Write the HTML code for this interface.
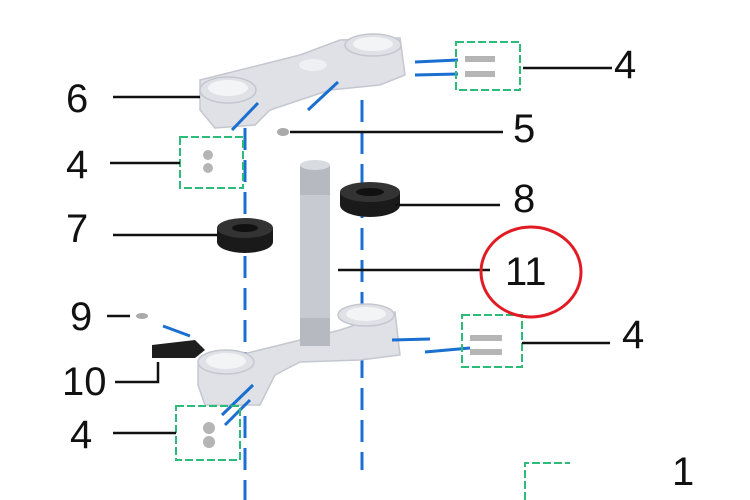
<!DOCTYPE html>
<html><head><style>body{margin:0;background:#fff}svg{display:block}text{font-family:"Liberation Sans",sans-serif;font-size:40px;fill:#111}</style></head>
<body>
<svg width="750" height="500" viewBox="0 0 750 500">
<!-- blue axes -->
<g stroke="#1a6fd0" stroke-width="3" stroke-dasharray="22,10">
<line x1="245" y1="128" x2="245" y2="500"/>
<line x1="362" y1="100" x2="362" y2="470"/>
</g>
<!-- upper clamp -->
<g fill="#dfe1e6" stroke="#c4c7cf" stroke-width="1.5">
<path d="M200 80 L300 55 L340 40 L400 38 L405 75 L380 85 L330 90 L270 110 L255 125 L215 128 L200 110 Z"/>
<ellipse cx="228" cy="90" rx="28" ry="13"/>
<ellipse cx="373" cy="45" rx="28" ry="11"/>
</g>
<ellipse cx="228" cy="88" rx="20" ry="8" fill="#f3f4f6"/>
<ellipse cx="373" cy="44" rx="20" ry="7" fill="#f3f4f6"/>
<ellipse cx="313" cy="65" rx="14" ry="6" fill="#eef0f3"/>
<!-- lower clamp -->
<g fill="#dfe1e6" stroke="#c4c7cf" stroke-width="1.5">
<path d="M198 365 L280 345 L340 330 L395 312 L400 355 L360 360 L300 362 L275 375 L260 405 L205 405 L198 385 Z"/>
<ellipse cx="226" cy="362" rx="28" ry="12"/>
<ellipse cx="366" cy="315" rx="28" ry="11"/>
</g>
<ellipse cx="226" cy="361" rx="20" ry="8" fill="#f3f4f6"/>
<ellipse cx="366" cy="314" rx="20" ry="7" fill="#f3f4f6"/>
<!-- tube -->
<rect x="300" y="165" width="30" height="180" fill="#c7cad1"/>
<rect x="300" y="165" width="30" height="30" fill="#b6b9c0"/>
<rect x="300" y="318" width="30" height="28" fill="#b6b9c0"/>
<ellipse cx="315" cy="165" rx="15" ry="5" fill="#d8dbe0"/>
<!-- rings -->
<ellipse cx="370" cy="205" rx="30" ry="12" fill="#1a1a1a"/>
<rect x="340" y="192" width="60" height="13" fill="#1a1a1a"/>
<ellipse cx="370" cy="192" rx="30" ry="10" fill="#333"/>
<ellipse cx="370" cy="192" rx="14" ry="4" fill="#111"/>
<ellipse cx="245" cy="242" rx="28" ry="11" fill="#1a1a1a"/>
<rect x="217" y="228" width="56" height="14" fill="#1a1a1a"/>
<ellipse cx="245" cy="228" rx="28" ry="10" fill="#333"/>
<ellipse cx="245" cy="228" rx="13" ry="4" fill="#111"/>
<!-- part 10 -->
<path d="M152 345 L195 340 L205 350 L195 358 L152 358 Z" fill="#1e1e1e"/>
<!-- small bolts -->
<ellipse cx="283" cy="132" rx="6" ry="4" fill="#aaa"/>
<ellipse cx="142" cy="316" rx="6" ry="3" fill="#aaa"/>
<g fill="#b5b5b5"><rect x="465" y="56" width="30" height="6"/><rect x="465" y="71" width="30" height="6"/>
<rect x="470" y="335" width="32" height="6"/><rect x="470" y="349" width="32" height="6"/>
<circle cx="208" cy="155" r="5"/><circle cx="208" cy="168" r="5"/>
<circle cx="209" cy="428" r="6"/><circle cx="209" cy="442" r="6"/></g>
<!-- blue leader bits -->
<g stroke="#1a6fd0" stroke-width="3">
<line x1="415" y1="62" x2="458" y2="60"/><line x1="415" y1="75" x2="458" y2="74"/>
<line x1="392" y1="340" x2="430" y2="339"/><line x1="425" y1="352" x2="470" y2="348"/>
<line x1="232" y1="130" x2="258" y2="103"/><line x1="308" y1="110" x2="338" y2="82"/>
<line x1="222" y1="415" x2="253" y2="385"/><line x1="225" y1="425" x2="250" y2="400"/>
<line x1="163" y1="326" x2="190" y2="336"/>
</g>
<!-- green boxes -->
<g fill="none" stroke="#2dbb7a" stroke-width="2" stroke-dasharray="8,3">
<rect x="456" y="42" width="64" height="48"/>
<rect x="180" y="137" width="63" height="51"/>
<rect x="462" y="315" width="60" height="52"/>
<rect x="176" y="406" width="64" height="54"/>
<path d="M525 500 L525 463 L570 463"/>
</g>
<!-- black leaders -->
<g stroke="#111" stroke-width="2.5" fill="none">
<line x1="523" y1="68" x2="612" y2="68"/>
<line x1="113" y1="97" x2="200" y2="97"/>
<line x1="290" y1="132" x2="503" y2="132"/>
<line x1="110" y1="163" x2="180" y2="163"/>
<line x1="395" y1="205" x2="500" y2="205"/>
<line x1="113" y1="235" x2="218" y2="235"/>
<line x1="338" y1="270" x2="490" y2="270"/>
<line x1="107" y1="316" x2="130" y2="316"/>
<line x1="522" y1="343" x2="610" y2="343"/>
<path d="M115 382 L158 382 L158 362"/>
<line x1="113" y1="433" x2="176" y2="433"/>
</g>
<ellipse cx="531" cy="272" rx="50" ry="45" fill="none" stroke="#e01b24" stroke-width="3"/>
<text x="614" y="78">4</text>
<text x="66" y="112">6</text>
<text x="513" y="142">5</text>
<text x="66" y="178">4</text>
<text x="513" y="212">8</text>
<text x="66" y="242">7</text>
<text x="505" y="285">11</text>
<text x="70" y="330">9</text>
<text x="622" y="348">4</text>
<text x="62" y="395">10</text>
<text x="70" y="448">4</text>
<text x="672" y="485">1</text>
</svg>
</body></html>
